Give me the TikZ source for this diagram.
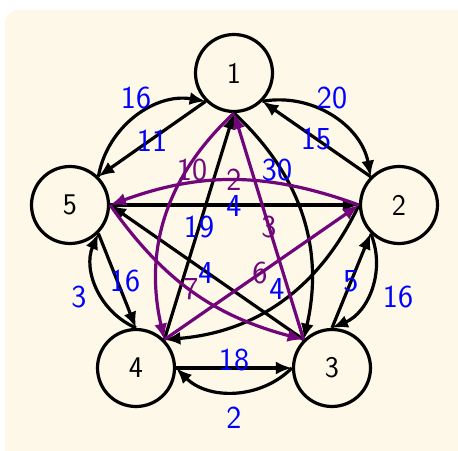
\documentclass[tikz,border=0pt]{standalone}
\usetikzlibrary{arrows.meta}
\definecolor{bgcream}{RGB}{253,248,231}
\definecolor{tour}{RGB}{112,6,122}
\begin{document}
\begin{tikzpicture}[x=1pt,y=1pt,
  vert/.style={circle,draw,line width=3.2pt,minimum size=77pt,inner sep=0pt,fill=bgcream,font=\fontsize{30}{34}\selectfont\sffamily},
  e/.style={line width=3.2pt,-{Latex[length=16pt,width=13pt]}},
  p/.style={e,draw=tour},
  lbl/.style={text=blue,inner sep=0pt,font=\fontsize{32}{36}\selectfont\sffamily},
  plbl/.style={lbl,text=tour}]
\useasboundingbox (0,0) rectangle (458,450);
\fill[bgcream,rounded corners=14pt] (5,-20) rectangle (480,440);
\node[vert] (n1) at (234,377) {1};
\node[vert] (n2) at (399,245) {2};
\node[vert] (n3) at (332,82) {3};
\node[vert] (n4) at (136,82) {4};
\node[vert] (n5) at (70,245) {5};
% outer pairs
\draw[e] (n5.north east) to[bend left=45] (n1.south west);
\draw[e] (n1.south west) -- (n5.north east);
\draw[e] (n1.south east) to[bend left=45] (n2.north west);
\draw[e] (n2.north west) -- (n1.south east);
\draw[e] (n2.south west) to[bend left=45] (n3.north);
\draw[e] (n3.north) -- (n2.south west);
\draw[e] (n3.west) to[bend left=45] (n4.east);
\draw[e] (n4.east) -- (n3.west);
\draw[e] (n4.north) to[bend left=45] (n5.south east);
\draw[e] (n5.south east) -- (n4.north);
% inner black
\draw[e] (n5.east) -- (n2.west);
\draw[e] (n4.north east) -- (n1.south);
\draw[e] (n1.south) to[bend left=30] (n3.north west);
\draw[e] (n2.west) to[bend left=30] (n4.north east);
\draw[e] (n3.north west) -- (n5.east);
% tour
\draw[p] (n2.west) to[bend right=20] (n5.east);
\draw[p] (n1.south) to[bend right=30] (n4.north east);
\draw[p] (n3.north west) -- (n1.south);
\draw[p] (n4.north east) -- (n2.west);
\draw[p] (n5.east) to[bend right=20] (n3.north west);
% labels
\node[lbl] (l51) at (136,352) {16};
\node[lbl] (l15) at (152,309) {11};
\node[lbl] (l12) at (332,352) {20};
\node[lbl] (l21) at (316,311) {15};
\node[lbl] (l13) at (277,280) {30};
\node[plbl] (l14) at (192,280) {10};
\node[plbl] (l25) at (234,270) {2};
\node[lbl] (l52) at (234,244) {4};
\node[lbl] (l41) at (199,223) {19};
\node[plbl] (l31) at (269,223) {3};
\node[lbl] (l35) at (206,177) {4};
\node[plbl] (l42) at (260,177) {6};
\node[plbl] (l53) at (191,161) {7};
\node[lbl] (l24) at (277,161) {4};
\node[lbl] (l45) at (79,153) {3};
\node[lbl] (l54) at (125,169) {16};
\node[lbl] (l32) at (351,169) {5};
\node[lbl] (l23) at (398,153) {16};
\node[lbl] (l43) at (234,90) {18};
\node[lbl] (l34) at (234,32) {2};
\end{tikzpicture}
\end{document}
